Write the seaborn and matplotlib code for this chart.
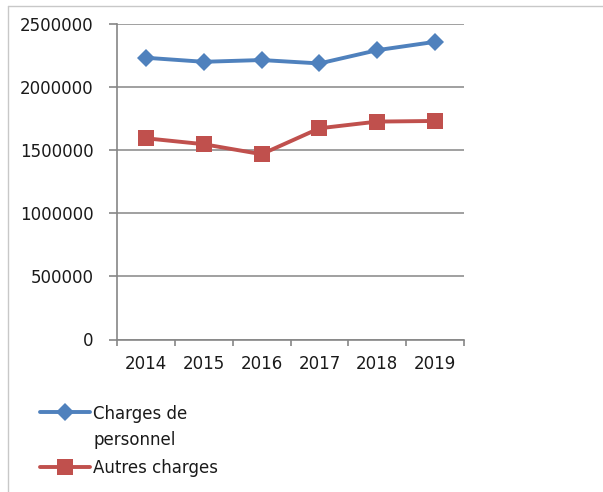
import numpy as np
import pandas as pd
import matplotlib
matplotlib.use("Agg")
import matplotlib.pyplot as plt
from matplotlib.lines import Line2D
from matplotlib.ticker import FixedLocator, MultipleLocator
from matplotlib.offsetbox import HPacker
import seaborn as sns

years = ["2014", "2015", "2016", "2017", "2018", "2019"]
charges_personnel = [2229000, 2197000, 2211000, 2184000, 2289000, 2355000]
autres_charges = [1592000, 1545000, 1466000, 1671000, 1724000, 1729000]
series_names = ["Charges de personnel", "Autres charges"]
legend_labels = ["Charges de\npersonnel", "Autres charges"]
colors = ["#4F81BD", "#C0504D"]

df = pd.DataFrame({
    "Année": years * 2,
    "Valeur": charges_personnel + autres_charges,
    "Série": [series_names[0]] * len(years) + [series_names[1]] * len(years),
})

sns.set_style("white")
plt.rcParams["font.family"] = ["DejaVu Sans"]

fig = plt.figure(figsize=(6.03, 4.92), dpi=100)
ax = fig.add_axes([117 / 603, 1 - 339.5 / 492, (464 - 117) / 603, (339.5 - 23.5) / 492])

sns.lineplot(
    data=df, x="Année", y="Valeur", hue="Série", style="Série",
    palette=dict(zip(series_names, colors)),
    markers={series_names[0]: "D", series_names[1]: "s"},
    dashes=False, linewidth=2.8, markeredgewidth=0, ax=ax, legend=False,
)
for line, ms in zip(ax.lines, [9.5, 11.5]):
    line.set_markersize(ms)

gray = "#868686"
txt = "#1a1a1a"
ax.set_ylim(0, 2500000)
ax.set_xlim(-0.5, len(years) - 0.5)
ax.yaxis.set_major_locator(MultipleLocator(500000))
ax.set_yticklabels([f"{int(v)}" for v in ax.get_yticks()])
ax.xaxis.set_minor_locator(FixedLocator(np.arange(-0.5, len(years), 1.0)))
ax.tick_params(axis="x", which="major", bottom=False, length=0, pad=11,
               labelsize=12, labelcolor=txt)
ax.tick_params(axis="x", which="minor", bottom=True, length=4.5, width=1.2,
               color=gray, direction="out")
ax.tick_params(axis="y", which="major", left=True, length=6, width=1.2, color=gray,
               direction="out", pad=11, labelsize=12, labelcolor=txt)
ax.yaxis.grid(True, color=gray, linewidth=1.1)
ax.set_axisbelow(True)
for s in ["top", "right"]:
    ax.spines[s].set_visible(False)
for s in ["left", "bottom"]:
    ax.spines[s].set_color(gray)
    ax.spines[s].set_linewidth(1.2)
ax.set_xlabel("")
ax.set_ylabel("")

handles = [
    Line2D([], [], color=colors[0], lw=2.8, marker="D", markersize=9.5, markeredgewidth=0),
    Line2D([], [], color=colors[1], lw=2.8, marker="s", markersize=11.5, markeredgewidth=0),
]
leg = fig.legend(handles, legend_labels, loc="upper left",
                 bbox_to_anchor=(40 / 603, 1 - 405 / 492), frameon=False,
                 fontsize=12, handlelength=3.0, handleheight=1.0, handletextpad=0.2,
                 borderpad=0, borderaxespad=0, labelspacing=0.6)
leg.get_texts()[0].set_linespacing(1.6)
for t in leg.get_texts():
    t.set_color(txt)

# align the first handle with the first line of its two-line label
try:
    for col in leg._legend_handle_box.get_children():
        rows = col.get_children()
        if rows and isinstance(rows[0], HPacker):
            rows[0].align = "top"
except Exception:
    pass

border = "#c8c8c8"
fig.add_artist(Line2D([8 / 603, 1.01], [1 - 6 / 492, 1 - 6 / 492], transform=fig.transFigure,
                      color=border, lw=1))
fig.add_artist(Line2D([8 / 603, 8 / 603], [-0.01, 1 - 6 / 492], transform=fig.transFigure,
                      color=border, lw=1))

fig.savefig("out.png", dpi=100)
